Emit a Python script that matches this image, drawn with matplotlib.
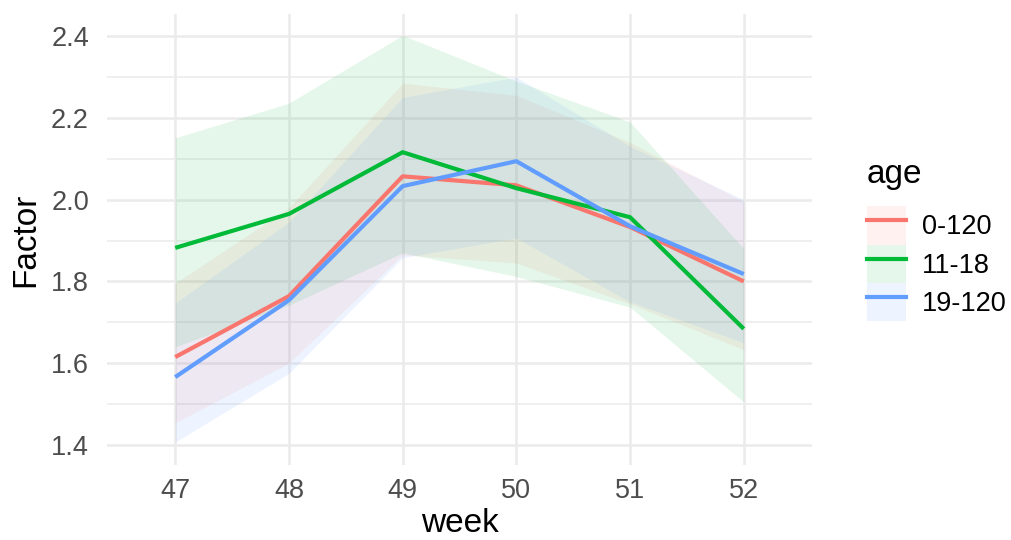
import matplotlib
matplotlib.use("Agg")
import matplotlib.pyplot as plt
from matplotlib.lines import Line2D
from matplotlib.patches import Patch
from matplotlib.legend_handler import HandlerTuple
from matplotlib.ticker import MultipleLocator, FormatStrFormatter

weeks = [47, 48, 49, 50, 51, 52]
groups = ["0-120", "11-18", "19-120"]
colors = ["#F8766D", "#00BA38", "#619CFF"]

factor_0_120 = [1.615, 1.764, 2.057, 2.035, 1.933, 1.800]
lower_0_120 = [1.454, 1.600, 1.865, 1.845, 1.745, 1.633]
upper_0_120 = [1.796, 1.980, 2.285, 2.255, 2.140, 1.995]

factor_11_18 = [1.882, 1.965, 2.116, 2.028, 1.957, 1.684]
lower_11_18 = [1.640, 1.742, 1.870, 1.812, 1.737, 1.505]
upper_11_18 = [2.151, 2.236, 2.402, 2.290, 2.190, 1.880]

factor_19_120 = [1.566, 1.754, 2.033, 2.094, 1.935, 1.818]
lower_19_120 = [1.407, 1.575, 1.858, 1.906, 1.750, 1.650]
upper_19_120 = [1.747, 1.945, 2.250, 2.300, 2.130, 2.000]

series = [
    (factor_0_120, lower_0_120, upper_0_120),
    (factor_11_18, lower_11_18, upper_11_18),
    (factor_19_120, lower_19_120, upper_19_120),
]

plt.rcParams["font.family"] = ["Liberation Sans", "DejaVu Sans"]

fig = plt.figure(figsize=(10.11, 5.4), dpi=100)
ax = fig.add_axes([107 / 1011, 1 - 465 / 540, 705 / 1011, 451 / 540])

# ribbons first, then lines on top
for (mean, lo, hi), c in zip(series, colors):
    ax.fill_between(weeks, lo, hi, color=c, alpha=0.1, linewidth=0)
for (mean, lo, hi), c in zip(series, colors):
    ax.plot(weeks, mean, color=c, linewidth=3.0, solid_capstyle="butt")

ax.set_xlim(46.4, 52.6)
ax.set_ylim(1.351, 2.454)
ax.set_xticks(weeks)
ax.set_xticklabels([str(w) for w in weeks])
ax.yaxis.set_major_locator(MultipleLocator(0.2))
ax.yaxis.set_minor_locator(MultipleLocator(0.1))
ax.yaxis.set_major_formatter(FormatStrFormatter("%.1f"))

ax.grid(which="major", color="#EBEBEB", linewidth=1.8)
ax.grid(which="minor", axis="y", color="#EBEBEB", linewidth=1.1)
ax.set_axisbelow(True)
for s in ax.spines.values():
    s.set_visible(False)
ax.tick_params(which="both", length=0, labelsize=19.5, labelcolor="#4D4D4D")
ax.tick_params(axis="x", pad=9)
ax.tick_params(axis="y", pad=13)

ax.set_xlabel("week", fontsize=24, labelpad=3)
ax.set_ylabel("Factor", fontsize=24, labelpad=7)

handles = [
    (Patch(facecolor=c, alpha=0.1, linewidth=0), Line2D([], [], color=c, linewidth=3.0))
    for c in colors
]
leg = fig.legend(
    handles, groups, title="age",
    loc="upper left", bbox_to_anchor=(864 / 1011, 1 - 156 / 540),
    frameon=False, fontsize=19.5, title_fontsize=24,
    handler_map={tuple: HandlerTuple(ndivide=1, pad=0)},
    handlelength=1.45, handleheight=1.8, labelspacing=0.0,
    handletextpad=0.6, borderpad=0.1, borderaxespad=0, alignment="left",
)
# a bit of room between the legend title and the keys
leg._legend_box.sep = 12

fig.savefig("out.png", dpi=100)
